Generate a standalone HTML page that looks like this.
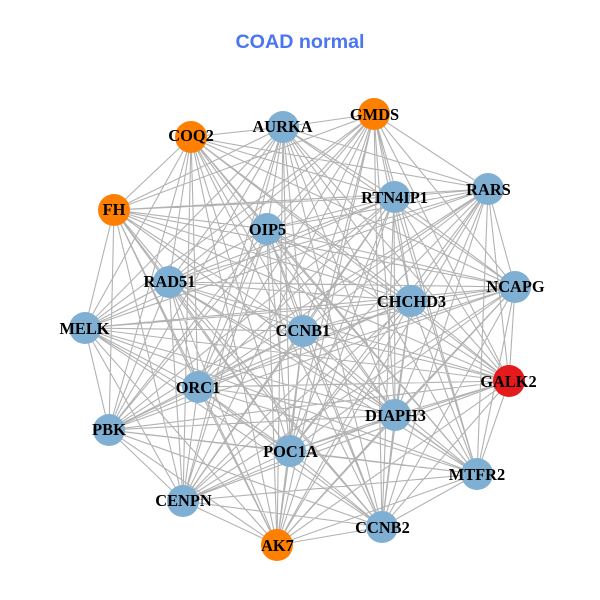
<!DOCTYPE html>
<html><head><meta charset="utf-8"><style>
html,body{margin:0;padding:0;background:#fff}
svg{display:block}
.l{font:bold 16.4px "Liberation Serif",serif;text-anchor:middle;fill:#000}
</style></head><body>
<svg width="600" height="600" viewBox="0 0 600 600" xmlns="http://www.w3.org/2000/svg">
<rect width="600" height="600" fill="#fff"/>
<text x="300" y="48" style="font:bold 19.7px 'Liberation Sans',sans-serif;text-anchor:middle" fill="#4a76f2">COAD normal</text>
<path fill="none" stroke="#b2b2b2" stroke-width="1.1" d="
M191 137L283 127M191 137L488 189M191 137L394 197M191 137L114 210M191 137L267 229M191 137L515 287M191 137L411 301M191 137L169 282M191 137L85 328M191 137L303 331M191 137L509 381M191 137L198 387M191 137L395 415M191 137L109 430M191 137L290 451M191 137L477 474M191 137L183 501M191 137L382 527M191 137L277 545
M283 127L374 114M283 127L488 189M283 127L394 197M283 127L114 210M283 127L267 229M283 127L515 287M283 127L411 301M283 127L169 282M283 127L85 328M283 127L303 331M283 127L509 381M283 127L198 387M283 127L395 415M283 127L109 430M283 127L290 451M283 127L477 474M283 127L183 501M283 127L382 527M283 127L277 545
M374 114L488 189M374 114L394 197M374 114L114 210M374 114L267 229M374 114L515 287M374 114L411 301M374 114L169 282M374 114L85 328M374 114L303 331M374 114L509 381M374 114L198 387M374 114L395 415M374 114L109 430M374 114L290 451M374 114L477 474M374 114L183 501M374 114L382 527M374 114L277 545
M488 189L394 197M488 189L114 210M488 189L267 229M488 189L515 287M488 189L411 301M488 189L169 282M488 189L85 328M488 189L303 331M488 189L509 381M488 189L198 387M488 189L395 415M488 189L109 430M488 189L290 451M488 189L477 474M488 189L183 501M488 189L382 527M488 189L277 545
M394 197L114 210M394 197L267 229M394 197L515 287M394 197L411 301M394 197L169 282M394 197L85 328M394 197L303 331M394 197L509 381M394 197L198 387M394 197L395 415M394 197L109 430M394 197L290 451M394 197L477 474M394 197L183 501M394 197L382 527M394 197L277 545
M114 210L267 229M114 210L515 287M114 210L411 301M114 210L169 282M114 210L85 328M114 210L303 331M114 210L509 381M114 210L198 387M114 210L395 415M114 210L109 430M114 210L290 451M114 210L477 474M114 210L183 501M114 210L382 527M114 210L277 545
M267 229L515 287M267 229L411 301M267 229L169 282M267 229L85 328M267 229L303 331M267 229L509 381M267 229L198 387M267 229L395 415M267 229L109 430M267 229L290 451M267 229L477 474M267 229L183 501M267 229L382 527M267 229L277 545
M515 287L411 301M515 287L169 282M515 287L85 328M515 287L303 331M515 287L509 381M515 287L198 387M515 287L395 415M515 287L109 430M515 287L290 451M515 287L477 474M515 287L183 501M515 287L382 527M515 287L277 545
M411 301L169 282M411 301L85 328M411 301L303 331M411 301L509 381M411 301L198 387M411 301L395 415M411 301L109 430M411 301L290 451M411 301L477 474M411 301L183 501M411 301L382 527M411 301L277 545
M169 282L85 328M169 282L303 331M169 282L509 381M169 282L198 387M169 282L395 415M169 282L109 430M169 282L290 451M169 282L477 474M169 282L183 501M169 282L382 527M169 282L277 545
M85 328L303 331M85 328L509 381M85 328L198 387M85 328L395 415M85 328L109 430M85 328L290 451M85 328L477 474M85 328L183 501M85 328L382 527M85 328L277 545
M303 331L509 381M303 331L198 387M303 331L395 415M303 331L109 430M303 331L290 451M303 331L477 474M303 331L183 501M303 331L382 527M303 331L277 545
M509 381L198 387M509 381L395 415M509 381L109 430M509 381L290 451M509 381L477 474M509 381L183 501M509 381L382 527M509 381L277 545
M198 387L395 415M198 387L109 430M198 387L290 451M198 387L477 474M198 387L183 501M198 387L382 527M198 387L277 545
M395 415L109 430M395 415L290 451M395 415L477 474M395 415L183 501M395 415L382 527M395 415L277 545
M109 430L290 451M109 430L477 474M109 430L183 501M109 430L382 527M109 430L277 545
M290 451L477 474M290 451L183 501M290 451L382 527M290 451L277 545
M477 474L183 501M477 474L382 527M477 474L277 545
M183 501L382 527M183 501L277 545
M382 527L277 545"/>
<g fill="#7fb0d4">
<circle cx="283" cy="127" r="16"/><circle cx="488" cy="189" r="16"/><circle cx="394.500" cy="197" r="16"/><circle cx="267" cy="229" r="16"/><circle cx="515" cy="287" r="16"/><circle cx="411" cy="301" r="16"/><circle cx="169" cy="282" r="16"/><circle cx="85" cy="328" r="16"/><circle cx="303" cy="331" r="16"/><circle cx="198" cy="387" r="16"/><circle cx="395" cy="415" r="16"/><circle cx="109" cy="430" r="16"/><circle cx="290" cy="451" r="16"/><circle cx="477" cy="474" r="16"/><circle cx="183" cy="501" r="16"/><circle cx="382" cy="527" r="16"/>
</g>
<g fill="#ff7f00">
<circle cx="191" cy="137" r="16"/><circle cx="374" cy="114" r="16"/><circle cx="114" cy="210" r="16"/><circle cx="277" cy="545" r="16"/>
</g>
<circle cx="509" cy="381" r="16" fill="#e41a1c"/>
<g>
<text class="l" x="191" y="141">COQ2</text>
<text class="l" x="282.500" y="132">AURKA</text>
<text class="l" x="374.500" y="120">GMDS</text>
<text class="l" x="488.500" y="195">RARS</text>
<text class="l" x="394.500" y="203">RTN4IP1</text>
<text class="l" x="114" y="215">FH</text>
<text class="l" x="267.500" y="235">OIP5</text>
<text class="l" x="515.500" y="292">NCAPG</text>
<text class="l" x="411.500" y="307">CHCHD3</text>
<text class="l" x="169.500" y="287">RAD51</text>
<text class="l" x="84.500" y="334">MELK</text>
<text class="l" x="303" y="336">CCNB1</text>
<text class="l" x="508.500" y="387">GALK2</text>
<text class="l" x="198" y="393">ORC1</text>
<text class="l" x="395.500" y="421">DIAPH3</text>
<text class="l" x="109" y="435">PBK</text>
<text class="l" x="290.500" y="457">POC1A</text>
<text class="l" x="477" y="480">MTFR2</text>
<text class="l" x="183.500" y="506">CENPN</text>
<text class="l" x="382.500" y="533">CCNB2</text>
<text class="l" x="277.500" y="551">AK7</text>
</g>
</svg>
</body></html>
